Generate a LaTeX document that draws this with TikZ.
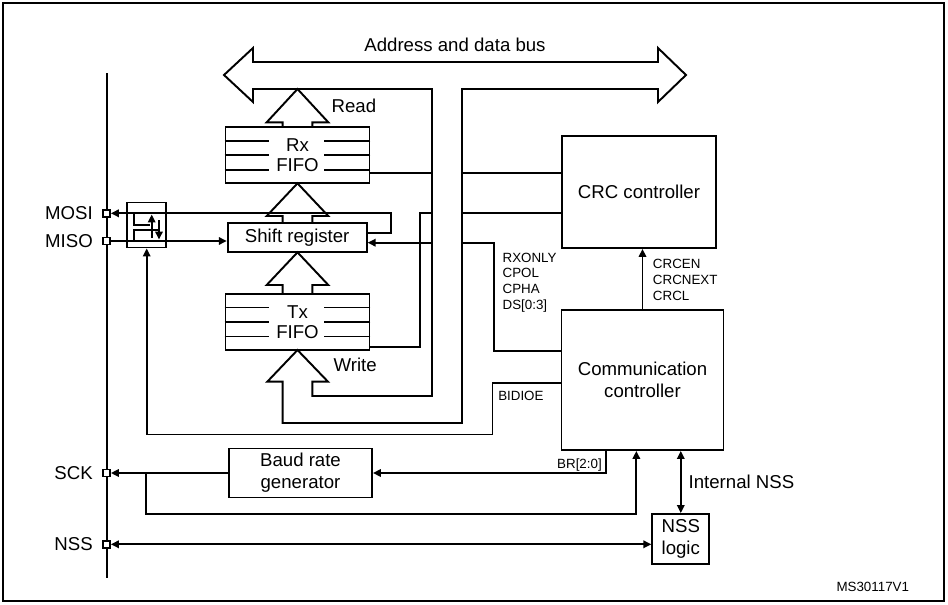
\documentclass[tikz,border=0pt]{standalone}
\usepackage{fontspec}
\setmainfont{Liberation Sans}
\usetikzlibrary{positioning,calc,arrows.meta}

\begin{document}
\begin{tikzpicture}[x={(0.02cm,0cm)}, y={(0cm,-0.02cm)}, line width=1.1pt,
  >={Triangle[length=4.5pt,width=4.2pt]},
  font=\fontsize{10.6}{12.4}\selectfont,
  block/.style={draw, inner sep=0pt, align=center},
  fifo/.style={block, minimum width=2.88cm, minimum height=1.12cm,
    font=\fontsize{10.6}{11.2}\selectfont},
  padbox/.style={draw, fill=white, line width=0.8pt, minimum size=0.14cm, inner sep=0pt},
  txt/.style={inner sep=0pt},
  sig/.style={font=\fontsize{7.6}{8.9}\selectfont, inner sep=0pt, align=left}]

  % Rahmen
  \useasboundingbox (0,0) rectangle (948,605);
  \draw[line width=1.5pt] (3,3) rectangle (944,601);

  % Bus mit Write-Pfeil
  \draw (253,62) -- (658,62) -- (658,48) -- (686,75) -- (658,102) -- (658,89)
    -- (462,89) -- (462,423) -- (282.7,423) -- (282.7,381.7) -- (267.3,381.7)
    -- (297.5,350) -- (328,381.7) -- (312.3,381.7) -- (312.3,396) -- (432,396)
    -- (432,89) -- (253,89) -- (253,102) -- (224,75) -- (253,48) -- cycle;
  \node[txt] (bus) at (455,45) {Address and data bus};

  % Bloecke
  \node[fifo] (rx) at (297.5,155.3) {Rx\\FIFO};
  \node[block, minimum width=2.78cm, minimum height=0.58cm] (sr) at (297.2,237.8) {Shift register};
  \node[fifo] (tx) at (297.5,322) {Tx\\FIFO};
  \node[block, minimum width=3.08cm, minimum height=2.24cm] (crc) at (639,192) {CRC controller};
  \node[block, minimum width=3.24cm, minimum height=2.8cm] (comm) at (642.5,380) {Communication\\controller};
  \node[block, minimum width=2.86cm, minimum height=0.98cm] (baud) at (300.5,473) {Baud rate\\generator};
  \node[block, minimum width=1.14cm, minimum height=1.0cm] (nss) at (680.8,539) {NSS\\logic};
  \node[block, minimum width=0.78cm, minimum height=0.9cm] (sw) at (146.7,225) {};

  % FIFO-Stufen
  \foreach \f in {rx,tx}
    \foreach \k in {1,2,3} {
      \draw ($(\f.north west)!\k/4!(\f.south west)$) -- ++(44,0);
      \draw ($(\f.north east)!\k/4!(\f.south east)$) -- ++(-46,0);
    }

  % Hohlpfeile
  \foreach \yb/\yh/\yt in {127.3/122.3/89, 223.3/216/183.3, 294/285/252.3}
    \draw (282.7,\yb) -- (282.7,\yh) -- (266.7,\yh) -- (297.5,\yt)
      -- (328.3,\yh) -- (312.3,\yh) -- (312.3,\yb);
  \node[txt, anchor=west] (rd) at (330.7,106) {Read};
  \node[txt, anchor=west] (wr) at (332.7,365) {Write};

  % Pins
  \draw (106.7,73) -- (106.7,578.3);
  \node[padbox] (mosi) at (106.7,213.3) {};
  \node[padbox] (miso) at (106.7,241) {};
  \node[padbox] (sck) at (106.7,473) {};
  \node[padbox] (nsspin) at (106.7,544.3) {};
  \node[txt, left=5pt of mosi] (mosiL) {MOSI};
  \node[txt, left=5pt of miso] (misoL) {MISO};
  \node[txt, left=5pt of sck] (sckL) {SCK};
  \node[txt, left=5pt of nsspin] (nssL) {NSS};

  % Umschalter
  \draw (134,213.3) -- (134,225) -- (150,225);
  \draw (134,241) -- (134,230) -- (159,230);
  \draw[->] (151.7,238) -- (151.7,214.5);
  \draw[->] (159,220) -- (159,239.5);

  % Verbindungen
  \draw (rx.east |- 0,172.7) -- (432,172.7);
  \draw (462,172.7) -- (crc.west |- 0,172.7);
  \draw (462,212.7) -- (crc.west |- 0,212.7);
  \draw (tx.east |- 0,346.7) -| (420,212.7) -- (432,212.7);
  \draw[->] (432,242.7) -- (sr.east |- 0,242.7);
  \draw (comm.west |- 0,351) -| (494,242.7) -- (462,242.7);
  \draw[->] (comm.west |- 0,383.3) -| (492.5,434.5) -| (sw.south);
  \draw[->] (sr.east |- 0,232.7) -| (391,213.3) -- (mosi.east);
  \draw[->] (miso.east) -- (sr.west |- miso);
  \draw[->] (comm.north) -- (comm.north |- crc.south);
  \draw[->] ($(comm.south west)+(45.2,0)$) |- (baud.east);
  \draw[->] (baud.west) -- (sck.east);
  \draw[->] (145.7,0 |- sck) -- (145.7,514.3) -| ($(comm.south west)+(75.8,0)$);
  \draw[<->] (nss.north) -- (nss.north |- comm.south);
  \draw[<->] (nsspin.east) -- (nss.west |- nsspin);

  % Signalnamen
  \node[sig, anchor=west] (mode) at (501.7,282.4) {RXONLY\\CPOL\\CPHA\\DS[0:3]};
  \node[sig, anchor=west] (crcsig) at (652,280) {CRCEN\\CRCNEXT\\CRCL};
  \node[sig, anchor=west] (bidi) at (497.3,395.5) {BIDIOE};
  \node[sig, anchor=east] (br) at (602.7,465) {BR[2:0]};
  \node[txt, anchor=west] (intnss) at (687.7,481.7) {Internal NSS};
  \node[sig, anchor=east] (ref) at (910,586.7) {MS30117V1};

\end{tikzpicture}
\end{document}
